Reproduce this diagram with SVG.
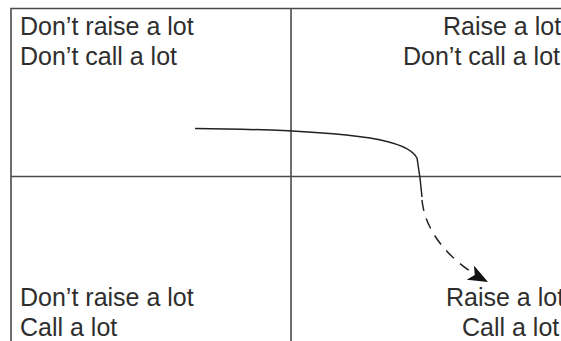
<svg xmlns="http://www.w3.org/2000/svg" width="561" height="341" viewBox="0 0 561 341">
<defs>
<style>
.t{font-family:"Liberation Sans",Arial,sans-serif;font-size:25px;fill:#2e2e2e}
.ax{stroke:#4a4a4a;stroke-width:1.6;fill:none}
.c{stroke:#222;stroke-width:1.5;fill:none}
</style>
<marker id="ah2" viewBox="0 0 20 16" refX="20" refY="8" markerWidth="20" markerHeight="16" markerUnits="userSpaceOnUse" orient="auto">
<path d="M0,0 L20,8 L0,16 L5,8 Z" fill="#111"/>
</marker>
</defs>
<rect width="561" height="341" fill="#fff"/>
<g id="frame">
<path class="ax" d="M11,360 V8.5 H580"/>
<path class="ax" d="M291,8.5 V360"/>
<path class="ax" d="M11,176.5 H580"/>
</g>
<g id="q-top-left">
<text class="t" x="20" y="35">Don’t raise a lot</text>
<text class="t" x="20" y="65">Don’t call a lot</text>
</g>
<g id="q-top-right">
<text class="t" x="443" y="35">Raise a lot</text>
<text class="t" x="403" y="65">Don’t call a lot</text>
</g>
<g id="q-bottom-left">
<text class="t" x="20" y="306">Don’t raise a lot</text>
<text class="t" x="20" y="336">Call a lot</text>
</g>
<g id="q-bottom-right">
<text class="t" x="446" y="306">Raise a lot</text>
<text class="t" x="462" y="336">Call a lot</text>
</g>
<g id="connectors">
<path class="c" d="M195,128.5 C255,129 320,131 370,138 C400,143 413,150 417,158 L420,178 L422,197"/>
<path class="c" d="M422,200 C425,232 450,262 488,282" stroke-dasharray="11,8" marker-end="url(#ah2)"/>
</g>
</svg>
